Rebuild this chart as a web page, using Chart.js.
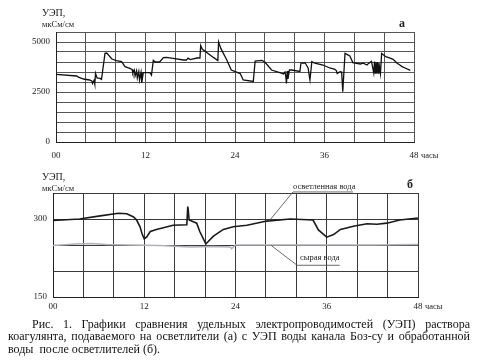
<!DOCTYPE html>
<html>
<head>
<meta charset="utf-8">
<script src="https://cdn.jsdelivr.net/npm/chart.js@4.4.1/dist/chart.umd.min.js"></script>
<style>
  body { margin: 0; background: #fff; width: 482px; height: 363px; overflow: hidden; position: relative; font-family: 'Liberation Serif', serif; color: #222; }
  .box { position: absolute; left: 0; }
  .t { position: absolute; white-space: nowrap; line-height: 1; }
  .caption { position: absolute; left: 8px; top: 318px; width: 462px; font-size: 12px; line-height: 12.4px; color: #111; }
  .caption div { text-align: justify; text-align-last: justify; }
  .caption div.last { text-align-last: left; }
</style>
</head>
<body>
<div class="box" style="top:0"><canvas id="chartA" width="482" height="165"></canvas></div>
<div class="box" style="top:163px"><canvas id="chartB" width="482" height="147"></canvas></div>

<span class="t" style="left:42px;top:8px;font-size:10px">УЭП,</span>
<span class="t" style="left:42px;top:20px;font-size:8.5px">мкСм/см</span>
<span class="t" style="left:399px;top:17px;font-size:12px;font-weight:bold">а</span>
<span class="t" style="left:421px;top:151px;font-size:8.5px">часы</span>

<span class="t" style="left:42px;top:172px;font-size:10px">УЭП,</span>
<span class="t" style="left:42px;top:184px;font-size:8.5px">мкСм/см</span>
<span class="t" style="left:407px;top:178px;font-size:12px;font-weight:bold">б</span>
<span class="t" style="left:425px;top:302px;font-size:8.5px">часы</span>
<span class="t" style="left:293px;top:182px;font-size:8.5px">осветленная вода</span>
<span class="t" style="left:300px;top:253px;font-size:8.5px">сырая вода</span>

<div class="caption">
  <div style="text-indent:24px">Рис. 1. Графики сравнения удельных электропроводимостей (УЭП) раствора</div>
  <div>коагулянта, подаваемого на осветлители (а) с УЭП воды канала Боз-су и обработанной</div>
  <div class="last">воды&nbsp; после осветлителей (б).</div>
</div>

<script>
// (а) coagulant solution, hours / µS/cm
const hoursA = [0, 2.8, 3.0, 3.7, 4.5, 4.8, 4.9, 5.1, 5.2, 5.3, 5.5, 5.9, 6.1, 6.57, 6.8, 7.5, 8.1, 8.8, 9.25, 9.9,
  10.2, 10.3, 10.5, 10.6, 10.8, 10.9, 11.1, 11.2, 11.4, 11.5, 11.7, 12.6, 12.8, 13.05, 13.3, 13.9, 14.4, 14.8, 15.7,
  17.1, 17.5, 17.7, 18.0, 18.9, 19.3, 19.4, 19.6, 21.1, 21.7, 21.8, 22.1, 22.9, 23.5, 24.7, 25.1, 26.45, 26.7,
  27.6, 28.0, 28.9, 30.0, 30.5, 30.7, 30.8, 30.9, 31.0, 31.1, 31.3, 31.6, 32.7, 32.85, 33.4, 33.8, 34.05, 34.3,
  34.7, 35.8, 36.7, 37.4, 37.6, 37.7, 38.1, 38.3, 38.45, 38.75, 39.0, 39.4, 39.8, 40.8, 41.2, 41.7, 41.9,
  42.3, 42.6, 42.7, 42.8, 42.9, 43.0, 43.1, 43.2, 43.3, 43.5, 43.66, 44.1, 44.3, 44.8, 45.2, 45.7, 46.1, 46.4,
  46.8, 47.5];
const uepA = [3380, 3300, 3240, 3150, 3100, 3050, 2930, 3080, 2900, 3430, 3200, 3180, 3130, 4430, 4450, 4150, 4070,
  4020, 3770, 3680, 3630, 3450, 3600, 3300, 3560, 3200, 3520, 3100, 3480, 2950, 3470, 3470, 3350, 4080, 4000,
  4000, 4220, 4230, 4180, 4100, 4100, 4190, 4120, 4200, 4200, 4820, 4650, 4230, 4070, 5000, 4680, 4100, 3600,
  3420, 3100, 3030, 4050, 4080, 4000, 3600, 3470, 3400, 3500, 3300, 2930, 3550, 3150, 3600, 3600, 3530, 3950,
  3960, 3700, 3100, 4020, 3940, 3850, 3700, 3630, 3560, 3430, 3520, 3500, 2520, 4430, 4380, 4300, 3970, 3900,
  3940, 3850, 3930, 4030, 3450, 4020, 3450, 4000, 3430, 3980, 3450, 3950, 3430, 4420, 4300, 4260, 4190, 4130,
  3950, 3850, 3770, 3700, 3580];

// (б) clarified and raw water, hours / µS/cm
const hoursB = [0, 3.5, 6.2, 8.6, 9.7, 10.6, 11.0, 11.45, 11.7, 12.0, 12.3, 12.8, 13.6, 15.8, 17.6, 17.72, 17.78,
  17.9, 18.9, 19.3, 20.1, 21.1, 22.4, 23.7, 25.5, 28.1, 31.2, 34.2, 34.9, 36.0, 36.9, 37.8, 39.5, 41.3, 42.6,
  43.9, 45.6, 48];
const clarified = [297, 300, 306, 311, 310, 304, 298, 285, 272, 262, 265, 276, 280, 288, 289, 324, 318, 298, 292,
  276, 252, 267, 280, 285, 288, 296, 300, 298, 279, 265, 270, 280, 286, 291, 290, 292, 298, 302];
const hoursRaw = [0, 3, 5, 7, 10, 14, 18, 21, 23.3, 23.5, 24, 30, 36, 42, 48];
const rawWater = [249, 252, 253, 251, 250, 249, 246, 247, 246, 243, 250, 250, 250, 250, 251];

const xLabels = { 0: '00', 12: '12', 24: '24', 36: '36', 48: '48' };
const labelsA = [0, 2500, 5000];
const labelsB = [150, 300];

const pts = (xs, ys) => xs.map((x, i) => ({ x: x, y: ys[i] }));
const tickFont = { family: 'Liberation Serif', size: 9 };

function xAxis(h, pad, gridColor) {
  return {
    type: 'linear', min: 0, max: 48,
    ticks: { stepSize: 4, autoSkip: false, maxRotation: 0, padding: pad, font: tickFont, color: '#222',
      callback: v => xLabels[v] !== undefined ? xLabels[v] : '' },
    grid: { color: gridColor, drawTicks: false },
    border: { color: '#222' },
    afterFit: s => { s.height = h; }
  };
}

function yAxis(min, max, step, shown, w, gridColor) {
  return {
    min: min, max: max,
    ticks: { stepSize: step, autoSkip: false, padding: 6, font: tickFont, color: '#222',
      callback: v => shown.includes(v) ? String(v) : '' },
    grid: { color: gridColor, drawTicks: false },
    border: { color: '#222' },
    afterFit: s => { s.width = w; }
  };
}

const baseOpts = {
  responsive: false,
  animation: false,
  plugins: { legend: { display: false }, tooltip: { enabled: false } },
  elements: { point: { radius: 0 }, line: { tension: 0 } }
};

new Chart(document.getElementById('chartA'), {
  type: 'line',
  data: { datasets: [{ data: pts(hoursA, uepA), borderColor: '#111', borderWidth: 1.3 }] },
  options: Object.assign({}, baseOpts, {
    layout: { padding: { top: 32, right: 68, left: 0, bottom: 0 } },
    scales: { x: xAxis(23, 8, '#555'), y: yAxis(0, 5500, 500, labelsA, 56, '#555') }
  })
});

// leader lines for the labels of chart (б)
const leaders = {
  id: 'leaders',
  afterDatasetsDraw(chart) {
    const { ctx, scales: { x, y } } = chart;
    const seg = (p) => {
      ctx.beginPath();
      ctx.moveTo(x.getPixelForValue(p[0][0]), y.getPixelForValue(p[0][1]));
      for (let i = 1; i < p.length; i++) ctx.lineTo(x.getPixelForValue(p[i][0]), y.getPixelForValue(p[i][1]));
      ctx.stroke();
    };
    ctx.save();
    ctx.strokeStyle = '#444';
    ctx.lineWidth = 0.8;
    seg([[28.3, 294], [31.56, 352], [39.45, 352]]);
    seg([[28.7, 249], [32.1, 211], [37.7, 211]]);
    ctx.restore();
  }
};

new Chart(document.getElementById('chartB'), {
  type: 'line',
  data: { datasets: [
    { data: pts(hoursRaw, rawWater), borderColor: '#b4aebb', borderWidth: 1.5 },
    { data: pts(hoursB, clarified), borderColor: '#1a1a1a', borderWidth: 1.6 }
  ] },
  options: Object.assign({}, baseOpts, {
    layout: { padding: { top: 30, right: 64, left: 0, bottom: 0 } },
    scales: { x: xAxis(13, 4, '#3a3a3a'), y: yAxis(150, 350, 50, labelsB, 53, '#3a3a3a') }
  }),
  plugins: [leaders]
});
</script>
</body>
</html>
